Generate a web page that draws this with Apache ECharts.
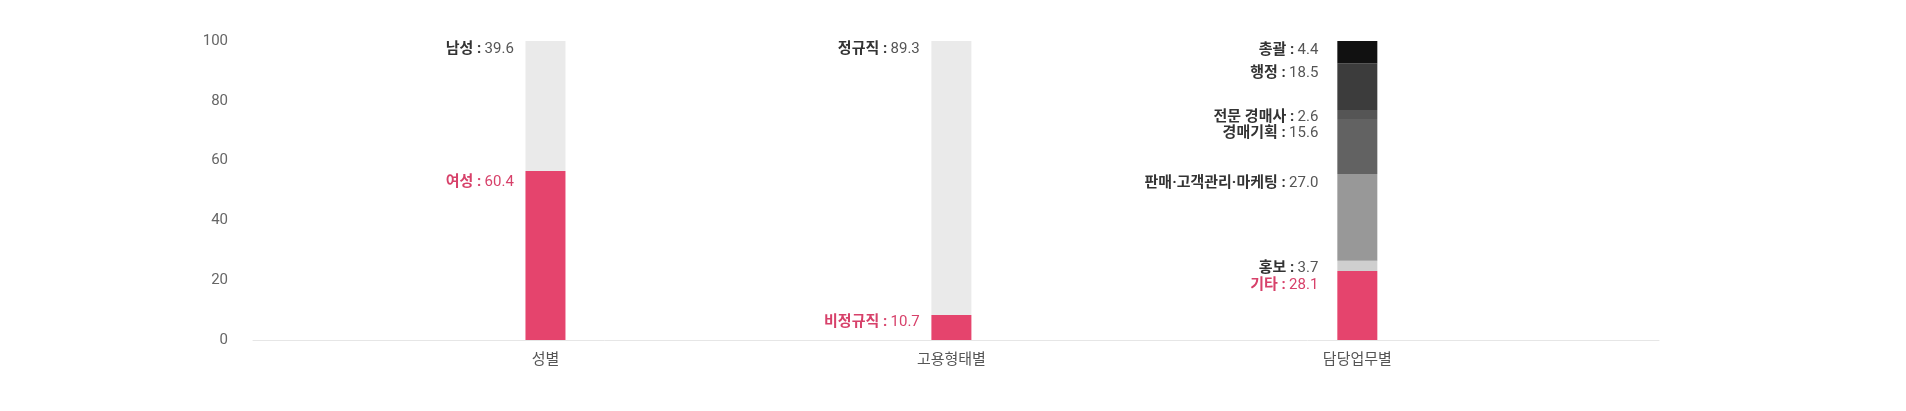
<!DOCTYPE html>
<html>
<head>
<meta charset="utf-8">
<script src="https://cdn.jsdelivr.net/npm/echarts@6/dist/echarts.min.js"></script>
<style>
html,body{margin:0;padding:0;background:#fff;}
#chart{width:1906px;height:411px;}
</style>
</head>
<body>
<div id="chart"></div>
<script>
// ---- data ----
const categories = ['성별', '고용형태별', '담당업무별'];
const yTicks = [0, 20, 40, 60, 80, 100];

// segments listed bottom -> top
const genderNames = ['여성', '남성'];
const genderLabels = [60.4, 39.6];      // printed values
const genderBars = [56.5, 43.5];        // bar heights as drawn

const employNames = ['비정규직', '정규직'];
const employLabels = [10.7, 89.3];
const employBars = [8.4, 91.6];

const dutyNames = ['기타', '홍보', '판매·고객관리·마케팅', '경매기획', '전문 경매사', '행정', '총괄'];
const dutyLabels = [28.1, 3.7, 27.0, 15.6, 2.6, 18.5, 4.4];
const dutyBars = [23.1, 3.4, 29.0, 18.4, 3.0, 15.7, 7.4];

// ---- styles ----
const FONT = 'Roboto, "Noto Sans CJK KR", sans-serif';
const PINK = '#e5446d';
const PINK_TEXT = '#d7416a';
const groupStyles = [
  { colors: [PINK, '#eaeaea'], dy: [11.4, 8.3], gap: 11.6 },
  { colors: [PINK, '#eaeaea'], dy: [7.7, 8.7], gap: 11.6 },
  { colors: [PINK, '#cfcfcf', '#989898', '#626262', '#555555', '#3c3c3c', '#111111'],
    dy: [14, 7, 9, 14.7, 7, 9.7, 9], gap: 19 }
];

const groups = [
  { names: genderNames, labels: genderLabels, bars: genderBars },
  { names: employNames, labels: employLabels, bars: employBars },
  { names: dutyNames, labels: dutyLabels, bars: dutyBars }
];

const series = [];
groups.forEach((g, gi) => {
  const st = groupStyles[gi];
  g.names.forEach((name, j) => {
    const isPink = st.colors[j] === PINK;
    series.push({
      type: 'bar',
      name: name,
      stack: 'total',
      barWidth: 40,
      xAxisIndex: 0,
      yAxisIndex: 0,
      data: categories.map((c, i) => (i === gi ? g.bars[j] : '-')),
      itemStyle: { color: st.colors[j] },
      emphasis: { disabled: true },
      label: {
        show: true,
        position: [-st.gap, st.dy[j]],
        align: 'right',
        verticalAlign: 'middle',
        formatter: '{n|' + name + ' :} {v|' + g.labels[j].toFixed(1) + '}',
        rich: {
          n: { fontFamily: FONT, fontSize: 15, fontWeight: 'bold', color: isPink ? PINK_TEXT : '#333333' },
          v: { fontFamily: FONT, fontSize: 15, color: isPink ? PINK_TEXT : '#555555' }
        }
      }
    });
  });
});

const chart = echarts.init(document.getElementById('chart'));
chart.setOption({
  animation: false,
  grid: [
    // bar grid: three equal bands
    { left: 342.5, right: 345.7, top: 41, bottom: 71 },
    // frame grid: long baseline and value labels
    { left: 253, right: 247, top: 41, bottom: 71 }
  ],
  xAxis: [
    {
      type: 'category',
      gridIndex: 0,
      data: categories,
      axisLine: { show: false },
      axisTick: { show: false },
      splitLine: { show: false },
      axisLabel: { color: '#555555', fontSize: 15, fontFamily: FONT, margin: 13 }
    },
    {
      type: 'value',
      gridIndex: 1,
      min: 0,
      max: 1,
      axisLine: { show: true, lineStyle: { color: '#e6e6e6', width: 1 } },
      axisTick: { show: false },
      axisLabel: { show: false },
      splitLine: { show: false }
    }
  ],
  yAxis: [
    {
      type: 'value',
      gridIndex: 0,
      min: 0,
      max: 100,
      interval: 20,
      show: false
    },
    {
      type: 'value',
      gridIndex: 1,
      min: 0,
      max: 100,
      interval: 20,
      splitLine: { show: false },
      axisLine: { show: false },
      axisTick: { show: false },
      axisLabel: { customValues: yTicks, color: '#666666', fontSize: 15, fontFamily: FONT, margin: 25 }
    }
  ],
  series: series
});
</script>
</body>
</html>
